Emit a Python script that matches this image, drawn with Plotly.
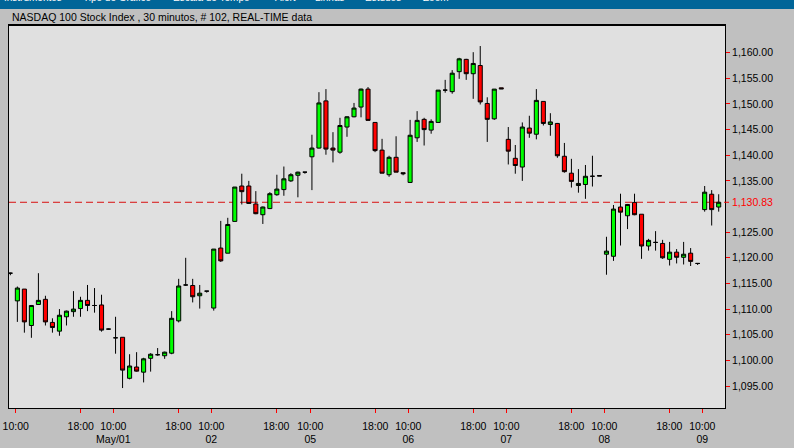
import plotly.graph_objects as go

# ---- data ----
bar_index = list(range(102))
open_ = [1117.0, 1111.6, 1113.9, 1106.8, 1110.9, 1111.9, 1107.4, 1105.7, 1108.5, 1109.5,
         1110.1, 1111.7, 1110.7, 1110.8, 1106.1, 1104.4, 1104.5, 1096.5, 1098.7, 1097.7,
         1100.4, 1101.1, 1100.9, 1101.4, 1107.7, 1114.7, 1114.6, 1112.6, 1113.5, 1110.2,
         1121.9, 1120.9, 1127.1, 1134.0, 1134.0, 1130.5, 1128.4, 1129.6, 1132.3, 1133.3,
         1135.0, 1136.1, 1136.7, 1139.7, 1141.4, 1150.6, 1141.4, 1140.6, 1145.5, 1147.5,
         1149.4, 1152.9, 1146.4, 1141.0, 1136.2, 1139.6, 1136.6, 1134.7, 1143.4, 1147.0,
         1144.9, 1146.4, 1152.7, 1152.4, 1156.3, 1158.7, 1155.9, 1157.5, 1150.1, 1147.1,
         1153.15, 1143.1, 1139.4, 1137.7, 1145.3, 1144.1, 1150.5, 1146.0, 1146.2, 1139.8,
         1136.5, 1134.1, 1134.3, 1135.9, 1136.05, 1120.7, 1120.3, 1129.9, 1128.2, 1130.8,
         1128.5, 1122.3, 1123.0, 1122.8, 1119.7, 1121.1, 1120.1, 1120.9, 1118.9, 1129.4,
         1132.4, 1129.9]
high = [1117.1, 1114.4, 1113.9, 1110.8, 1117.0, 1112.6, 1108.2, 1110.0, 1109.7, 1113.5,
        1112.4, 1114.7, 1114.1, 1112.8, 1106.2, 1108.5, 1104.5, 1101.2, 1101.6, 1100.5,
        1101.4, 1102.4, 1101.7, 1109.6, 1115.9, 1120.0, 1115.9, 1114.7, 1113.5, 1121.7,
        1127.2, 1127.8, 1133.8, 1136.4, 1135.0, 1133.0, 1130.0, 1132.8, 1136.2, 1137.8,
        1136.5, 1136.8, 1136.7, 1144.0, 1152.3, 1152.9, 1144.5, 1147.3, 1147.6, 1150.2,
        1153.0, 1153.3, 1146.4, 1143.2, 1139.9, 1143.7, 1136.6, 1146.9, 1148.6, 1147.3,
        1147.0, 1152.7, 1154.7, 1156.6, 1159.0, 1158.8, 1160.1, 1161.3, 1151.3, 1152.9,
        1153.15, 1145.5, 1142.0, 1146.4, 1147.7, 1152.9, 1150.5, 1148.2, 1146.3, 1142.4,
        1139.3, 1137.3, 1138.1, 1139.9, 1136.05, 1124.1, 1130.3, 1132.5, 1130.5, 1132.5,
        1128.5, 1123.7, 1125.2, 1123.5, 1123.1, 1121.7, 1123.1, 1121.9, 1118.9, 1134.0,
        1133.2, 1132.4]
low = [1116.6, 1107.5, 1105.4, 1104.4, 1110.8, 1106.8, 1105.4, 1104.8, 1106.8, 1108.5,
       1108.5, 1109.6, 1109.3, 1105.6, 1106.0, 1101.3, 1094.6, 1096.3, 1097.8, 1095.7,
       1097.8, 1100.9, 1100.3, 1101.2, 1107.4, 1114.5, 1111.3, 1110.1, 1113.2, 1109.7,
       1119.2, 1120.9, 1127.1, 1130.4, 1130.5, 1128.5, 1126.6, 1129.5, 1132.1, 1132.1,
       1134.8, 1131.8, 1136.4, 1133.2, 1141.3, 1140.1, 1138.6, 1140.3, 1143.6, 1147.4,
       1147.4, 1146.8, 1140.6, 1136.5, 1135.8, 1136.7, 1136.1, 1134.6, 1142.6, 1141.9,
       1144.2, 1146.4, 1152.2, 1152.0, 1154.9, 1154.7, 1151.0, 1149.9, 1142.6, 1146.9,
       1152.95, 1138.2, 1136.4, 1135.0, 1143.4, 1143.1, 1145.8, 1143.8, 1139.5, 1136.6,
       1133.7, 1132.7, 1131.5, 1133.9, 1135.95, 1116.7, 1119.4, 1122.4, 1125.6, 1128.3,
       1119.8, 1121.4, 1121.4, 1119.8, 1118.5, 1118.9, 1118.7, 1118.4, 1118.6, 1129.0,
       1126.3, 1129.0]
close = [1117.0, 1114.1, 1107.5, 1110.7, 1111.7, 1107.5, 1106.4, 1108.8, 1109.6, 1110.0,
         1111.7, 1110.7, 1110.7, 1105.9, 1106.1, 1104.4, 1098.1, 1098.9, 1097.9, 1100.3,
         1101.2, 1101.1, 1101.6, 1108.2, 1114.5, 1114.7, 1112.4, 1113.1, 1113.5, 1121.7,
         1119.4, 1126.5, 1133.8, 1132.9, 1130.6, 1128.6, 1129.9, 1132.5, 1133.4, 1135.4,
         1136.2, 1136.7, 1136.7, 1141.4, 1150.2, 1141.2, 1141.0, 1145.8, 1147.5, 1149.2,
         1152.9, 1146.8, 1140.9, 1136.5, 1139.6, 1136.7, 1136.4, 1143.9, 1146.8, 1145.0,
         1146.6, 1152.7, 1152.7, 1156.0, 1158.8, 1155.9, 1157.9, 1150.4, 1147.0, 1152.9,
         1152.95, 1140.8, 1138.0, 1145.5, 1144.3, 1150.7, 1146.2, 1146.5, 1139.9, 1136.8,
         1134.9, 1134.5, 1135.9, 1135.9, 1135.95, 1121.3, 1129.5, 1128.9, 1130.4, 1128.4,
         1122.3, 1123.4, 1123.0, 1120.0, 1121.1, 1120.1, 1120.7, 1119.3, 1118.9, 1132.8,
         1129.4, 1130.83]

last_price = 1130.83
title_text = "NASDAQ 100 Stock Index , 30 minutos, # 102, REAL-TIME data"

x_tick_pos = [0.76, 10.03, 14.68, 23.95, 28.65, 37.92, 42.77, 52.04,
              56.74, 66.01, 70.72, 79.98, 84.69, 93.96, 98.66]
x_tick_text = ["10:00", "18:00", "10:00<br>May/01", "18:00", "10:00<br>02", "18:00",
               "10:00<br>05", "18:00", "10:00<br>06", "18:00", "10:00<br>07", "18:00",
               "10:00<br>08", "18:00", "10:00<br>09"]
# 1,130.00 is replaced by the red last-price label in the reference
y_tick_vals = [1095, 1100, 1105, 1110, 1115, 1120, 1125, 1135, 1140, 1145, 1150, 1155, 1160]

menu_items = ["Instrumentos", "Tipo de Gráfico", "Escala de Tempo", "Alert", "Linhas", "Estudos", "Zoom"]
menu_x_px = [2, 81, 171, 273, 313, 363, 421]

# ---- layout geometry ----
W, H = 794, 448
ML, MR, MT, MB = 9, 69, 25, 40
PW, PH = W - ML - MR, H - MT - MB


def px_x(x):
    return (x - ML) / PW


def px_y(y):
    return (H - MB - y) / PH


FONT = "Liberation Sans, Arial, sans-serif"

fig = go.Figure()
fig.add_trace(go.Candlestick(
    x=bar_index, open=open_, high=high, low=low, close=close,
    increasing=dict(line=dict(color="black", width=1), fillcolor="#00FF00"),
    decreasing=dict(line=dict(color="black", width=1), fillcolor="#FF0000"),
    whiskerwidth=0, hoverinfo="skip",
))

shapes = [
    # dashed last-price line
    dict(type="line", xref="paper", yref="y", x0=0, x1=1, y0=last_price, y1=last_price,
         line=dict(color="#D81010", width=1, dash="7px,4px"), layer="below"),
    # red tick for last price label
    dict(type="line", xref="paper", yref="y", x0=1, x1=1 + 4 / PW, y0=last_price, y1=last_price,
         line=dict(color="#FF0000", width=1)),
    # top blue menu bar
    dict(type="rect", xref="paper", yref="paper", x0=px_x(0), x1=px_x(W), y0=px_y(9), y1=px_y(-2),
         fillcolor="#006598", line=dict(width=0)),
    # thicker top border
    dict(type="line", xref="paper", yref="paper", x0=0, x1=1, y0=1, y1=1,
         line=dict(color="black", width=2)),
]

annotations = [
    dict(text=title_text, xref="paper", yref="paper", x=px_x(10), y=px_y(17),
         xanchor="left", yanchor="middle", showarrow=False,
         font=dict(family=FONT, size=10.5, color="black")),
    dict(text="1,130.83", xref="paper", yref="y", x=1, y=last_price, xshift=5,
         xanchor="left", yanchor="middle", showarrow=False,
         font=dict(family=FONT, size=10.5, color="#FF0000")),
]
for name, mx in zip(menu_items, menu_x_px):
    annotations.append(dict(text=name, xref="paper", yref="paper", x=px_x(mx), y=px_y(-2),
                            xanchor="left", yanchor="middle", showarrow=False,
                            font=dict(family=FONT, size=10, color="white")))

fig.update_layout(
    width=W, height=H,
    margin=dict(l=ML, r=MR, t=MT, b=MB, pad=0, autoexpand=False),
    paper_bgcolor="#C0C0C0", plot_bgcolor="#E0E0E0",
    showlegend=False, boxgap=0.42, boxgroupgap=0,
    font=dict(family=FONT, size=10.5, color="black"),
    shapes=shapes, annotations=annotations,
    hovermode=False,
    xaxis=dict(
        rangeslider=dict(visible=False), type="linear", automargin=False,
        range=[-0.194, 101.9], tickmode="array", tickvals=x_tick_pos, ticktext=x_tick_text,
        ticks="outside", ticklen=4, tickcolor="#FF0000", tickwidth=1, ticklabelstandoff=4,
        showline=True, linecolor="black", linewidth=1, mirror=True,
        showgrid=False, zeroline=False, tickangle=0,
        tickfont=dict(family=FONT, size=10.5, color="black"),
    ),
    yaxis=dict(
        side="right", range=[1090.71, 1165.40], tickmode="array", tickvals=y_tick_vals,
        automargin=False,
        tickformat=",.2f", ticks="outside", ticklen=4, tickcolor="#FF0000", tickwidth=1,
        showline=True, linecolor="black", linewidth=1, mirror=True,
        showgrid=False, zeroline=False,
        tickfont=dict(family=FONT, size=10.5, color="black"),
    ),
)

fig.write_html("out.html", config={"displayModeBar": False},
               post_script="document.body.style.margin='0';")
